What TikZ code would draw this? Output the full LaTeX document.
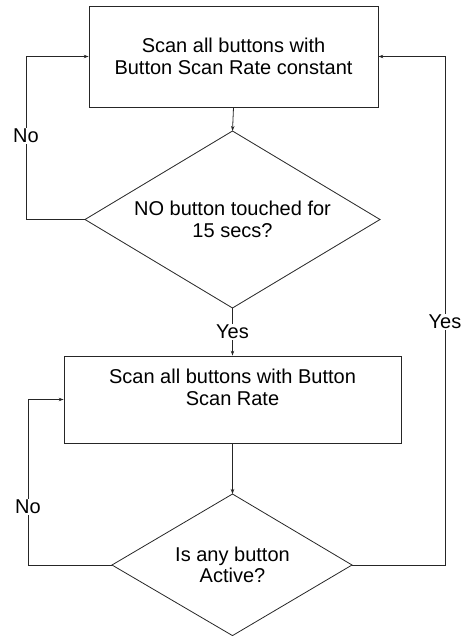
\documentclass[tikz,border=0pt]{standalone}
\usepackage{fontspec}
\setmainfont{Liberation Sans}
\usetikzlibrary{arrows.meta}
\definecolor{linecol}{gray}{0.15}
\begin{document}
\begin{tikzpicture}[x=1pt,y=-1pt,
  every node/.style={font=\fontsize{20}{21.5}\selectfont, text=black},
  procbox/.style={draw=linecol, line width=0.8pt, align=center, inner sep=0pt},
  conn/.style={draw=linecol, line width=0.8pt},
  arr/.style={conn, -{Stealth[length=5pt,width=3.5pt]}},
  lbl/.style={fill=white, inner sep=1.5pt}]
\useasboundingbox (0,0) rectangle (463,636);
% process boxes
\node[procbox, minimum width=289pt, minimum height=101pt] (b1) at (233.5,56.5)
  {Scan all buttons with\\Button Scan Rate constant};
\node[procbox, minimum width=337pt, minimum height=87pt] (b2) at (232.5,399.5)
  {Scan all buttons with Button\\Scan Rate\\[3pt]};
% decision 1
\coordinate (d1t) at (232.5,131);
\coordinate (d1l) at (85,219.5);
\coordinate (d1r) at (380,219.5);
\coordinate (d1b) at (232.5,308);
\draw[conn] (d1t) -- (d1r) -- (d1b) -- (d1l) -- cycle;
\node[align=center] (d1) at (232.5,219.5) {NO button touched for\\15 secs?};
% decision 2
\coordinate (d2t) at (232.5,494);
\coordinate (d2l) at (112,565);
\coordinate (d2r) at (352,565);
\coordinate (d2b) at (232.5,635.6);
\draw[conn] (d2t) -- (d2r) -- (d2b) -- (d2l) -- cycle;
\node[align=center] (d2) at (232.5,565) {Is any button\\Active?};
% connectors
\draw[arr] (b1.south) -- (d1t);
\draw[arr] (d1l) -- ++(-59,0) |- (b1.west);
\draw[arr] (d1b) -- (b2.north);
\draw[arr] (b2.south) -- (d2t);
\draw[arr] (d2l) -- ++(-84,0) |- (b2.west);
\draw[arr] (d2r) -- ++(93,0) |- (b1.east);
% labels
\node[lbl] (no1) at (26,136) {No};
\node[lbl] (yes1) at (232.5,332) {Yes};
\node[lbl] (no2) at (28,507) {No};
\node[lbl] (yes2) at (445,322) {Yes};
\end{tikzpicture}
\end{document}
